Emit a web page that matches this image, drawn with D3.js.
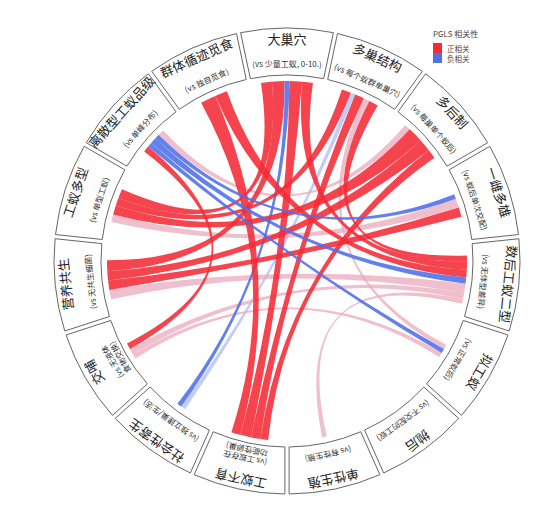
<!DOCTYPE html>
<html>
<head>
<meta charset="utf-8">
<script src="https://cdn.jsdelivr.net/npm/d3@7"></script>
<style>
  body { margin: 0; background: #fff; }
  text { font-family: "Noto Sans CJK SC", "Noto Sans", sans-serif; }
</style>
</head>
<body>
<div id="chart"></div>
<script>
// traits round the ring, clockwise from the top
const nodeNames = [
  "大巢穴", "多巢结构", "多后制", "一雌多雄", "数后工蚁二型",
  "拟工蚁", "抛后", "单性生殖", "工蚁不育", "社会性寄生",
  "交哺", "营养共生", "工蚁多型", "离散型工蚁品级", "群体循迹觅食"
];

const nodeNotes = [
  ["(vs 少量工蚁, 0-10.)"],
  ["(vs 每个蚁群单巢穴)"],
  ["(vs 每巢单个蚁后)"],
  ["(vs 蚁后单次交配)"],
  ["(vs 无体型差异)"],
  ["(vs 正常蚁后)"],
  ["(vs 不交配的工蚁)"],
  ["(vs 有性生殖)"],
  ["(vs 工蚁存在", "功能性卵巢)"],
  ["(vs 独立建巢/生活)"],
  ["(vs 无液体", "食物交换)"],
  ["(vs 无共生细菌)"],
  ["(vs 单型工蚁)"],
  ["(vs 单峰分布)"],
  ["(vs 独自觅食)"]
];

// links: source, target, sign (+1 / -1), significant (1 / 0), width at source, width at target
const links = [
  [0, 12, 1, 1, 3.5, 3],
  [0, 11, 1, 1, 4, 3.5],
  [0, 9, -1, 1, 1.6, 1.5],
  [0, 8, 1, 1, 4, 3.5],
  [0, 4, 1, 1, 3.5, 2.5],
  [14, 8, 1, 1, 5, 3],
  [14, 4, 1, 1, 4, 2.5],
  [1, 12, 1, 1, 3, 2.5],
  [1, 9, -1, 0, 1.5, 1.5],
  [1, 8, 1, 1, 3, 3],
  [1, 5, 1, 0, 2, 1.5],
  [1, 4, 1, 1, 3, 2],
  [2, 13, 1, 0, 2, 2],
  [2, 12, 1, 1, 5, 3],
  [2, 11, 1, 1, 4, 3],
  [2, 8, 1, 1, 3, 2.5],
  [3, 12, 1, 0, 3, 2.5],
  [3, 11, 1, 1, 3, 3],
  [3, 13, -1, 1, 1.5, 1.5],
  [4, 13, -1, 1, 2, 2],
  [4, 11, 1, 0, 3, 3],
  [4, 10, 1, 0, 2, 2],
  [4, 7, 1, 0, 1.5, 1.5],
  [5, 13, -1, 1, 1.5, 1.5],
  [5, 10, 1, 0, 1.5, 1.5],
  [10, 13, 1, 1, 2, 2]
];

const legendTitle = "PGLS 相关性";
const legendLabels = ["正相关", "负相关"];

const width = 553, height = 510;
const cx = 287, cy = 261;
const rOut = 233, rIn = 186, rRibbon = 180;

const colors = {
  pos: ["#eaa9bd", "#f42a36"],
  neg: ["#aebcf1", "#4f70e8"]
};

const svg = d3.select("#chart").append("svg")
  .attr("width", width)
  .attr("height", height);

const n = nodeNames.length;
const angle = d3.scaleLinear().domain([0, n]).range([0, 2 * Math.PI]);
const widthScale = d3.scaleLinear().domain([0, 1]).range([0, Math.PI / 180]);

const delta = (i, j) => ((j - i) % n + n) % n;

// place each link end along its node's arc
const ends = nodeNames.map(() => []);
links.forEach((l, k) => {
  ends[l[0]].push({ k: k, other: l[1], w: l[4], side: "source" });
  ends[l[1]].push({ k: k, other: l[0], w: l[5], side: "target" });
});

const ribbonEnds = links.map(() => ({}));
ends.forEach((list, i) => {
  list.sort((p, q) => delta(i, q.other) - delta(i, p.other));
  const total = d3.sum(list, e => widthScale(e.w));
  let a = angle(i) - total / 2;
  list.forEach(e => {
    const w = widthScale(e.w);
    ribbonEnds[e.k][e.side] = { startAngle: a, endAngle: a + w };
    a += w;
  });
});

const ribbon = d3.ribbon().radius(rRibbon);

const plot = svg.append("g")
  .attr("transform", `translate(${cx},${cy})`);

// faint links underneath, significant ones on top
const order = d3.range(links.length).sort((a, b) => links[a][3] - links[b][3]);

plot.append("g")
  .selectAll("path")
  .data(order)
  .join("path")
  .attr("d", k => ribbon(ribbonEnds[k]))
  .attr("fill", k => (links[k][2] > 0 ? colors.pos : colors.neg)[links[k][3]])
  .attr("fill-opacity", k => links[k][3] ? 0.88 : 0.75);

// label boxes
const arc = d3.arc()
  .innerRadius(rIn)
  .outerRadius(rOut)
  .padAngle(0.014);

plot.append("g")
  .selectAll("path")
  .data(nodeNames)
  .join("path")
  .attr("d", (d, i) => arc({ startAngle: angle(i - 0.5), endAngle: angle(i + 0.5) }))
  .attr("fill", "#fff")
  .attr("stroke", "#666")
  .attr("stroke-width", 1);

const labels = plot.append("g")
  .selectAll("g")
  .data(nodeNames)
  .join("g")
  .attr("transform", (d, i) => `rotate(${angle(i) * 180 / Math.PI})`);

labels.append("text")
  .attr("y", -223)
  .attr("text-anchor", "middle")
  .attr("dominant-baseline", "central")
  .attr("font-size", 13)
  .attr("fill", "#222")
  .text(d => d);

labels.each(function(d, i) {
  const lines = nodeNotes[i];
  const top = lines.length > 1 ? -202 : -198;
  d3.select(this).selectAll("text.note")
    .data(lines)
    .join("text")
    .attr("class", "note")
    .attr("y", (t, j) => top + j * 9)
    .attr("text-anchor", "middle")
    .attr("dominant-baseline", "central")
    .attr("font-size", 8)
    .attr("fill", "#333")
    .text(t => t);
});

// legend
const legend = svg.append("g").attr("transform", "translate(433,37)");
legend.append("text")
  .attr("font-size", 8)
  .attr("fill", "#444")
  .text(legendTitle);

legend.selectAll("rect")
  .data(legendLabels)
  .join("rect")
  .attr("x", 0)
  .attr("y", (d, i) => 6 + i * 10)
  .attr("width", 9)
  .attr("height", 10)
  .attr("fill", (d, i) => i === 0 ? colors.pos[1] : colors.neg[1]);

legend.selectAll("text.item")
  .data(legendLabels)
  .join("text")
  .attr("class", "item")
  .attr("x", 14)
  .attr("y", (d, i) => 11 + i * 10)
  .attr("dominant-baseline", "central")
  .attr("font-size", 7.5)
  .attr("fill", "#444")
  .text(d => d);
</script>
</body>
</html>
